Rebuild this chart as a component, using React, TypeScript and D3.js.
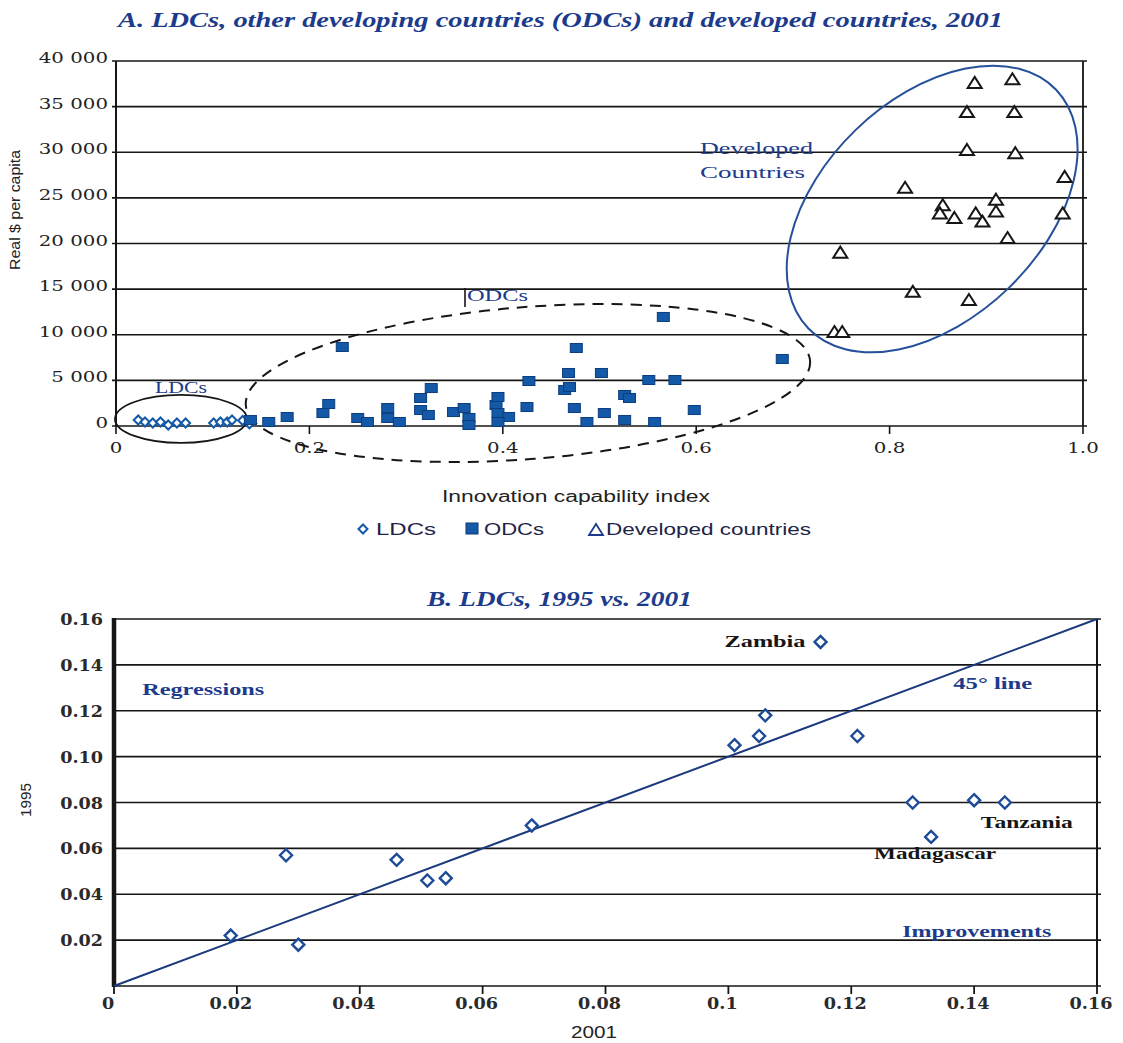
import React from 'react';
import * as d3 from 'd3';

// ---------- Panel A: innovation capability index vs real $ per capita, 2001
const ldcIndex = [0.023, 0.03, 0.038, 0.046, 0.054, 0.063, 0.072, 0.101, 0.108, 0.115, 0.12, 0.131, 0.138];
const ldcGdp = [660, 440, 330, 440, 110, 330, 330, 330, 440, 440, 660, 600, 250];

const odcIndex = [
  0.139, 0.158, 0.177, 0.214, 0.22, 0.234, 0.25, 0.26, 0.281, 0.281, 0.293, 0.315, 0.315, 0.323, 0.326,
  0.349, 0.36, 0.365, 0.365, 0.393, 0.395, 0.395, 0.406, 0.395, 0.425, 0.427, 0.464, 0.469, 0.468, 0.476,
  0.474, 0.487, 0.502, 0.505, 0.526, 0.531, 0.526, 0.551, 0.578, 0.557, 0.566, 0.598, 0.689,
];
const odcGdp = [
  660, 440, 990, 1420, 2410, 8660, 880, 440, 1970, 880, 440, 3070, 1750, 1210, 4160,
  1530, 1970, 880, 110, 2300, 3180, 1420, 990, 440, 2080, 4930, 3950, 4270, 5810, 8550,
  1970, 440, 5810, 1420, 3400, 3070, 660, 5040, 5040, 440, 11950, 1750, 7340,
];

const devIndex = [
  0.888, 0.927, 0.88, 0.929, 0.88, 0.93, 0.981, 0.816, 0.855, 0.852, 0.867,
  0.889, 0.896, 0.91, 0.91, 0.979, 0.922, 0.749, 0.824, 0.882, 0.743, 0.751,
];
const devGdp = [
  37600, 38000, 34400, 34400, 30250, 29900, 27300, 26100, 24200, 23300, 22800,
  23300, 22400, 24800, 23500, 23300, 20600, 19000, 14700, 13800, 10300, 10300,
];

const gdpTicks = [0, 5000, 10000, 15000, 20000, 25000, 30000, 35000, 40000];
const indexTicks = [0, 0.2, 0.4, 0.6, 0.8, 1.0];
const indexTickLabels = ['0', '0.2', '0.4', '0.6', '0.8', '1.0'];

// ---------- Panel B: LDC index, 2001 (x) vs 1995 (y)
const ldc2001 = [0.019, 0.028, 0.03, 0.046, 0.051, 0.054, 0.068, 0.101, 0.105, 0.106, 0.115, 0.121, 0.13, 0.133, 0.14, 0.145];
const ldc1995 = [0.022, 0.057, 0.018, 0.055, 0.046, 0.047, 0.07, 0.105, 0.109, 0.118, 0.15, 0.109, 0.08, 0.065, 0.081, 0.08];
const countryNames = ['', '', '', '', '', '', '', '', '', '', 'Zambia', '', '', 'Madagascar', '', 'Tanzania'];

const bTicks = [0, 0.02, 0.04, 0.06, 0.08, 0.1, 0.12, 0.14, 0.16];
const bXLabels = ['0', '0.02', '0.04', '0.06', '0.08', '0.1', '0.12', '0.14', '0.16'];
const bYLabels = ['', '0.02', '0.04', '0.06', '0.08', '0.10', '0.12', '0.14', '0.16'];

const INK = '#161616';
const NAVY = '#1c3b8c';
const BLUE = '#1459a8';
const BLUE_EDGE = '#0b3d7c';
const RING_BLUE = '#26509a';
const SERIF = '"DejaVu Serif", "Liberation Serif", serif';
const TSERIF = '"Liberation Serif", "DejaVu Serif", serif';
const SANS = '"Liberation Sans", Arial, sans-serif';

const fmtGdp = (v: number) => (v === 0 ? '0' : d3.format(',')(v).replace(',', ' '));

type TxtProps = {
  x: number;
  y: number;
  children: React.ReactNode;
  size?: number;
  anchor?: 'start' | 'middle' | 'end';
  sx?: number;
  family?: string;
  weight?: string;
  italic?: boolean;
  fill?: string;
  rotate?: number;
  len?: number;
};

function Txt({ x, y, children, size = 15, anchor = 'start', sx = 1, family = SERIF, weight = 'normal', italic = false, fill = INK, rotate = 0, len }: TxtProps) {
  const t = `translate(${x},${y})${rotate ? ` rotate(${rotate})` : ''}${sx !== 1 ? ` scale(${sx},1)` : ''}`;
  return (
    <text
      transform={t}
      fontSize={size}
      fontFamily={family}
      fontWeight={weight}
      fontStyle={italic ? 'italic' : 'normal'}
      textAnchor={anchor}
      fill={fill}
      textLength={len}
      lengthAdjust={len ? 'spacingAndGlyphs' : undefined}
    >
      {children}
    </text>
  );
}

const diamondPath = (r: number) => `M0,${-r}L${r},0L0,${r}L${-r},0Z`;
const trianglePath = 'M0,-6L7,5L-7,5Z';

export default function App() {
  // Panel A scales
  const xA = d3.scaleLinear().domain([0, 1]).range([116, 1083]);
  const yA = d3.scaleLinear().domain([0, 40000]).range([426, 61]);
  // Panel B scales
  const xB = d3.scaleLinear().domain([0, 0.16]).range([114, 1097]);
  const yB = d3.scaleLinear().domain([0, 0.16]).range([986, 619]);

  // group outlines around each cluster (centre in data units, radii in px)
  const rings = [
    { cx: 0.0672, cy: 770, rx: 66, ry: 24, angle: 0, stroke: INK, dash: undefined as string | undefined, w: 1.8 },
    { cx: 0.426, cy: 4710, rx: 283, ry: 76, angle: -4.5, stroke: INK, dash: '11 8', w: 2 },
    { cx: 0.844, cy: 23780, rx: 172, ry: 110, angle: -44, stroke: RING_BLUE, dash: undefined, w: 2 },
  ];

  const fortyFive = d3.line()([
    [xB(0), yB(0)],
    [xB(0.16), yB(0.16)],
  ]) as string;

  const labelOffsets: Record<string, [number, number, number, 'start' | 'end']> = {
    Zambia: [-15, 5, 81, 'end'],
    Madagascar: [-57, 22, 122, 'start'],
    Tanzania: [-24, 25, 92, 'start'],
  };

  return (
    <svg width={1123} height={1043} style={{ position: 'absolute', left: 0, top: 0, background: '#fff' }}>
      <rect x={0} y={0} width={1123} height={1043} fill="#fff" />

      {/* ===================== Panel A ===================== */}
      <Txt x={118} y={27} size={21} family={TSERIF} weight="bold" italic fill={NAVY} len={885}>
        A.  LDCs, other developing countries (ODCs) and developed countries, 2001
      </Txt>

      {gdpTicks.map((t) => (
        <line key={`ga${t}`} x1={xA(0) - 4} x2={xA(1) + 4} y1={yA(t)} y2={yA(t)} stroke={INK} strokeWidth={1.6} />
      ))}
      <line x1={xA(0)} x2={xA(0)} y1={yA(40000)} y2={yA(0)} stroke={INK} strokeWidth={2} />
      <line x1={xA(1)} x2={xA(1)} y1={yA(40000)} y2={yA(0)} stroke={INK} strokeWidth={1.8} />
      {indexTicks.map((t) => (
        <line key={`ta${t}`} x1={xA(t)} x2={xA(t)} y1={yA(0)} y2={yA(0) + 8} stroke={INK} strokeWidth={1.6} />
      ))}

      {gdpTicks.map((t) => (
        <Txt key={`la${t}`} x={108} y={yA(t) + 2} size={15} anchor="end" sx={1.32} fill="#222">
          {fmtGdp(t)}
        </Txt>
      ))}
      {indexTicks.map((t, i) => (
        <Txt key={`lx${t}`} x={xA(t)} y={453} size={15} anchor="middle" sx={1.32} fill="#222">
          {indexTickLabels[i]}
        </Txt>
      ))}

      <Txt x={20} y={210} size={14} anchor="middle" rotate={-90} family={SANS} fill="#222" len={120}>
        Real $ per capita
      </Txt>
      <Txt x={442} y={502} size={16} family={SANS} fill="#222" len={268}>
        Innovation capability index
      </Txt>

      {/* legend */}
      <path d={diamondPath(4.5)} transform="translate(363,529)" fill="#fff" stroke={BLUE} strokeWidth={2} />
      <Txt x={376} y={535} size={16} family={SANS} fill="#1d2446" len={60}>
        LDCs
      </Txt>
      <rect x={466} y={523} width={12} height={11} fill={BLUE} stroke={BLUE_EDGE} strokeWidth={1} />
      <Txt x={484} y={535} size={16} family={SANS} fill="#1d2446" len={60}>
        ODCs
      </Txt>
      <path d={trianglePath} transform="translate(596,530)" fill="#fff" stroke={NAVY} strokeWidth={1.8} />
      <Txt x={606} y={535} size={16} family={SANS} fill="#1d2446" len={205}>
        Developed countries
      </Txt>

      {/* cluster outlines */}
      {rings.map((r, i) => {
        const cx = xA(r.cx);
        const cy = yA(r.cy);
        return (
          <ellipse
            key={`ring${i}`}
            cx={cx}
            cy={cy}
            rx={r.rx}
            ry={r.ry}
            transform={`rotate(${r.angle} ${cx} ${cy})`}
            fill="none"
            stroke={r.stroke}
            strokeWidth={r.w}
            strokeDasharray={r.dash}
          />
        );
      })}

      {/* markers */}
      {ldcIndex.map((v, i) => (
        <path key={`ld${i}`} d={diamondPath(4.5)} transform={`translate(${xA(v)},${yA(ldcGdp[i])})`} fill="#fff" stroke={BLUE} strokeWidth={2} />
      ))}
      {odcIndex.map((v, i) => (
        <rect key={`od${i}`} x={xA(v) - 6} y={yA(odcGdp[i]) - 4.5} width={12} height={9} fill={BLUE} stroke={BLUE_EDGE} strokeWidth={1} />
      ))}
      {devIndex.map((v, i) => (
        <path key={`dv${i}`} d={trianglePath} transform={`translate(${xA(v)},${yA(devGdp[i])})`} fill="#fff" stroke={INK} strokeWidth={2} />
      ))}

      {/* group labels */}
      <Txt x={155} y={393} size={16} family={TSERIF} fill={NAVY} len={52}>
        LDCs
      </Txt>
      <line x1={465} x2={465} y1={288} y2={307} stroke={INK} strokeWidth={1.6} />
      <Txt x={467} y={301} size={16} family={TSERIF} fill={NAVY} len={61}>
        ODCs
      </Txt>
      <Txt x={700} y={154} size={17} family={TSERIF} fill={NAVY} len={113}>
        Developed
      </Txt>
      <Txt x={700} y={178} size={17} family={TSERIF} fill={NAVY} len={105}>
        Countries
      </Txt>

      {/* ===================== Panel B ===================== */}
      <Txt x={427} y={606} size={20} family={TSERIF} weight="bold" italic fill={NAVY} len={265}>
        B.  LDCs, 1995 vs. 2001
      </Txt>

      {bTicks.map((t) => (
        <line key={`gb${t}`} x1={xB(0)} x2={xB(0.16) + 4} y1={yB(t)} y2={yB(t)} stroke={INK} strokeWidth={1.6} />
      ))}
      <line x1={xB(0.16)} x2={xB(0.16)} y1={yB(0.16)} y2={yB(0)} stroke={INK} strokeWidth={2} />
      {bTicks.map((t) => (
        <line key={`tb${t}`} x1={xB(t)} x2={xB(t)} y1={yB(0)} y2={yB(0) + 8} stroke={INK} strokeWidth={1.8} />
      ))}
      <line x1={xB(0)} x2={xB(0)} y1={yB(0.16) - 1} y2={yB(0) + 1} stroke={INK} strokeWidth={4.5} />

      {bTicks.map((t, i) =>
        bYLabels[i] ? (
          <Txt key={`lby${t}`} x={103} y={yB(t) + 6} size={16} anchor="end" sx={1.1} weight="bold" fill="#2a2a2a">
            {bYLabels[i]}
          </Txt>
        ) : null
      )}
      {bTicks.map((t, i) => (
        <Txt key={`lbx${t}`} x={xB(t) - 6} y={1009} size={16} anchor="middle" sx={1.1} weight="bold" fill="#2a2a2a">
          {bXLabels[i]}
        </Txt>
      ))}

      <Txt x={31} y={800} size={15} anchor="middle" rotate={-90} family={SANS} fill="#222" len={34}>
        1995
      </Txt>
      <Txt x={594} y={1038} size={16} anchor="middle" family={SANS} fill="#222" len={46}>
        2001
      </Txt>

      <path d={fortyFive} fill="none" stroke="#1b3a7e" strokeWidth={2} />

      {ldc2001.map((v, i) => (
        <path key={`lb${i}`} d={diamondPath(6)} transform={`translate(${xB(v)},${yB(ldc1995[i])})`} fill="#fff" stroke="#1d4b97" strokeWidth={2.4} />
      ))}

      {countryNames.map((name, i) => {
        if (!name) return null;
        const [dx, dy, len, anchor] = labelOffsets[name];
        return (
          <Txt key={`cn${i}`} x={xB(ldc2001[i]) + dx} y={yB(ldc1995[i]) + dy} size={17} family={TSERIF} weight="bold" anchor={anchor} fill={INK} len={len}>
            {name}
          </Txt>
        );
      })}

      <Txt x={xB(0.1366)} y={yB(0.1294)} size={17} family={TSERIF} weight="bold" fill={NAVY} len={79}>
        45° line
      </Txt>
      <Txt x={xB(0.0046)} y={yB(0.1268)} size={17} family={TSERIF} weight="bold" fill={NAVY} len={122}>
        Regressions
      </Txt>
      <Txt x={xB(0.1283)} y={yB(0.0214)} size={17} family={TSERIF} weight="bold" fill={NAVY} len={149}>
        Improvements
      </Txt>
    </svg>
  );
}
